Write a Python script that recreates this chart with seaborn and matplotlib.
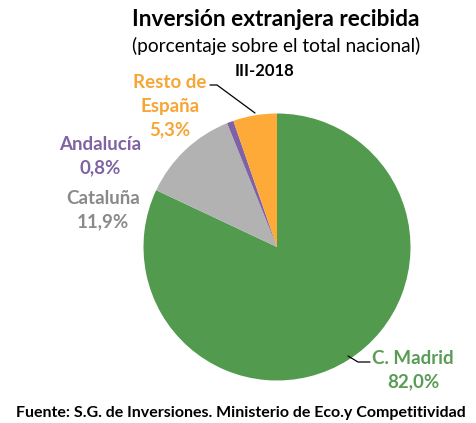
import matplotlib
matplotlib.use("Agg")
import matplotlib.pyplot as plt
import seaborn as sns

# data
regions = ["C. Madrid", "Cataluña", "Andalucía", "Resto de\nEspaña"]
shares = [82.0, 11.9, 0.8, 5.3]
wedge_colors = ["#529A4E", "#B2B2B2", "#7F62A6", "#FDAA39"]
text_colors = ["#5A9C55", "#8A8A8A", "#8064A2", "#F7A535"]

sns.set_theme(style="white")
plt.rcParams['font.family'] = ['Lato', 'DejaVu Sans']

fig = plt.figure(figsize=(4.76, 4.23), dpi=100)
W, H = 476, 423
cx, cy, r = 277, 247, 133.5
ax = fig.add_axes([(cx - r) / W, (H - cy - r) / H, 2 * r / W, 2 * r / H])
ax.pie(shares, colors=wedge_colors, startangle=90, counterclock=False,
       radius=1, wedgeprops=dict(linewidth=0))
ax.set_xlim(-1, 1)
ax.set_ylim(-1, 1)
ax.set_aspect("equal")
ax.axis("off")


def d(px, py):
    # pixel position -> data coords of pie axes
    return (px - cx) / r, (cy - py) / r


# labels
label_pos = [(413, 370), (103, 210), (100, 156), (170, 106)]
for name, val, col, (px, py) in zip(regions, shares, text_colors, label_pos):
    pct = f"{val:.1f}%".replace(".", ",")
    x, y = d(px, py)
    ax.text(x, y, f"{name}\n{pct}", ha="center", va="center", color=col, fontsize=13.5,
            fontweight="bold", linespacing=1.45, clip_on=False)

# leader lines
l1 = [d(210, 85), d(217, 85), d(255, 113)]
ax.plot([p[0] for p in l1], [p[1] for p in l1], color="black", lw=0.9, clip_on=False)
l2 = [d(348, 356), d(358, 362), d(370, 362)]
ax.plot([p[0] for p in l2], [p[1] for p in l2], color="black", lw=0.9, clip_on=False)

# titles
fig.text(276 / W, 1 - 20 / H, "Inversión extranjera recibida", ha="center", va="center",
         fontsize=16.3, fontweight="bold", color="black")
fig.text(276 / W, 1 - 46 / H, "(porcentaje sobre el total nacional)", ha="center", va="center",
         fontsize=13.8, color="black")
fig.text(265 / W, 1 - 71 / H, "III-2018", ha="center", va="center",
         fontsize=12, fontweight="bold", color="black")
fig.text(241 / W, 1 - 413 / H, "Fuente: S.G. de Inversiones. Ministerio de Eco.y Competitividad",
         ha="center", va="center", fontsize=11.5, fontweight="bold", color="black")

fig.savefig("out.png", dpi=100, facecolor="white")
